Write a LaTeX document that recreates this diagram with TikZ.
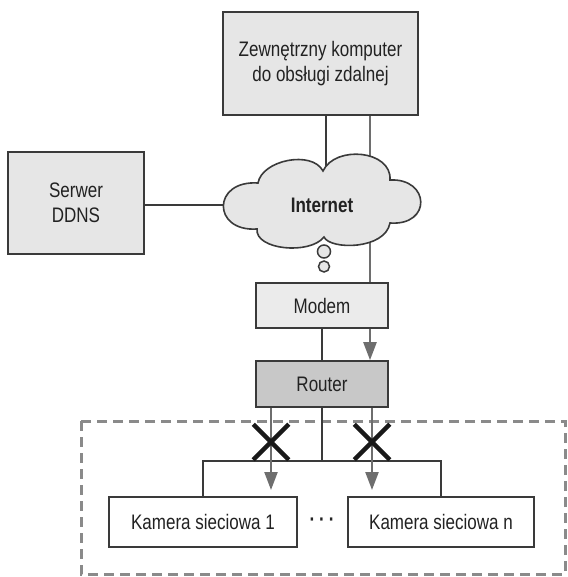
\documentclass[tikz,border=0pt]{standalone}
\usepackage{fontspec}
\setmainfont{Liberation Sans}[FakeStretch=0.81]
\usetikzlibrary{arrows.meta,shapes.misc}
\definecolor{fillA}{HTML}{E6E6E6}
\definecolor{fillM}{HTML}{EBEBEB}
\definecolor{fillR}{HTML}{C8C8C8}
\definecolor{border}{HTML}{3A3A3A}
\definecolor{txt}{HTML}{222222}
\definecolor{lgray}{HTML}{6E6E6E}
\definecolor{dgray}{HTML}{8A8A8A}
\tikzset{
  box/.style={draw=border, line width=1.6pt, align=center, inner sep=0pt, text=txt},
  conn/.style={draw=border, line width=1.6pt},
  grayline/.style={draw=lgray, line width=2.3pt},
  grayarrow/.style={draw=lgray, line width=2.3pt, -{Triangle[width=13pt,length=18pt]}, color=lgray},
  xmark/.style={cross out, draw=black!90, line width=4.5pt, minimum size=31pt, inner sep=0pt},
  dashbox/.style={draw=dgray, line width=3pt, dash pattern=on 10pt off 6pt},
  bubble/.style={draw=border, fill=fillA, line width=1.5pt}
}
\begin{document}
\begin{tikzpicture}[x=1pt,y=-1pt, font=\fontsize{21}{25}\selectfont]
\useasboundingbox (0,0) rectangle (567,577);
% boxes
\node[box, fill=fillA, minimum width=195pt, minimum height=103pt] (top) at (320.5,63.5) {Zewnętrzny komputer\\do obsługi zdalnej};
\node[box, fill=fillA, minimum width=136pt, minimum height=102pt] (ddns) at (76,203) {Serwer\\DDNS};
\node[box, fill=fillM, minimum width=132pt, minimum height=45pt] (modem) at (322,305.5) {Modem};
\node[box, fill=fillR, minimum width=132pt, minimum height=46pt] (router) at (322,384) {Router};
\node[box, fill=white, minimum width=188pt, minimum height=50pt] (cam1) at (203,522) {Kamera sieciowa 1};
\node[box, fill=white, minimum width=186pt, minimum height=50pt] (camn) at (441,522) {Kamera sieciowa n};
\node[text=txt] (dots) at (322,522) {\textbf{·\hspace{4pt}·\hspace{4pt}·}};
% helper coordinates
\coordinate (cc) at (322,205);
\coordinate (lx) at (326,205);
\coordinate (rx) at (370,0);
\coordinate (a1) at (271,0);
\coordinate (a2) at (372,0);
\coordinate (tipy) at (0,490);
\coordinate (hy) at (0,461);
\coordinate (xy) at (0,442);
% dashed area
\draw[dashbox] (81,421) rectangle (565,574);
% connectors behind cloud
\draw[conn] (ddns.east |- cc) -- (cc);
\draw[conn] (top.south -| lx) -- (lx);
\draw[grayline] (top.south -| rx) -- (modem.north -| rx);
% cloud
\draw[draw=border, fill=fillA, line width=1.6pt] (258,183)
 .. controls (262,160) and (312,150) .. (323,171)
 .. controls (335,145) and (392,150) .. (390,180)
 .. controls (430,178) and (432,226) .. (390,223)
 .. controls (385,250) and (330,250) .. (324,237)
 .. controls (310,255) and (255,250) .. (257,229)
 .. controls (212,232) and (212,180) .. (258,183) -- cycle;
\node[text=txt, font=\fontsize{21}{25}\selectfont\bfseries] (inet) at (cc) {Internet};
\draw[bubble] (324,251.5) circle (6.5);
\draw[bubble] (324,266.5) circle (5.5);
% modem - router
\draw[conn] (modem.south) -- (router.north);
\draw[grayarrow] (modem.south -| rx) -- (router.north -| rx);
% router - cameras
\draw[conn] (router.south) -- (router.south |- hy);
\draw[conn] (cam1.north) -- (cam1.north |- hy) -- (camn.north |- hy) -- (camn.north);
\draw[grayarrow] (router.south -| a1) -- (a1 |- tipy);
\draw[grayarrow] (router.south -| a2) -- (a2 |- tipy);
\node[xmark] (x1) at (a1 |- xy) {};
\node[xmark] (x2) at (a2 |- xy) {};
\end{tikzpicture}
\end{document}
